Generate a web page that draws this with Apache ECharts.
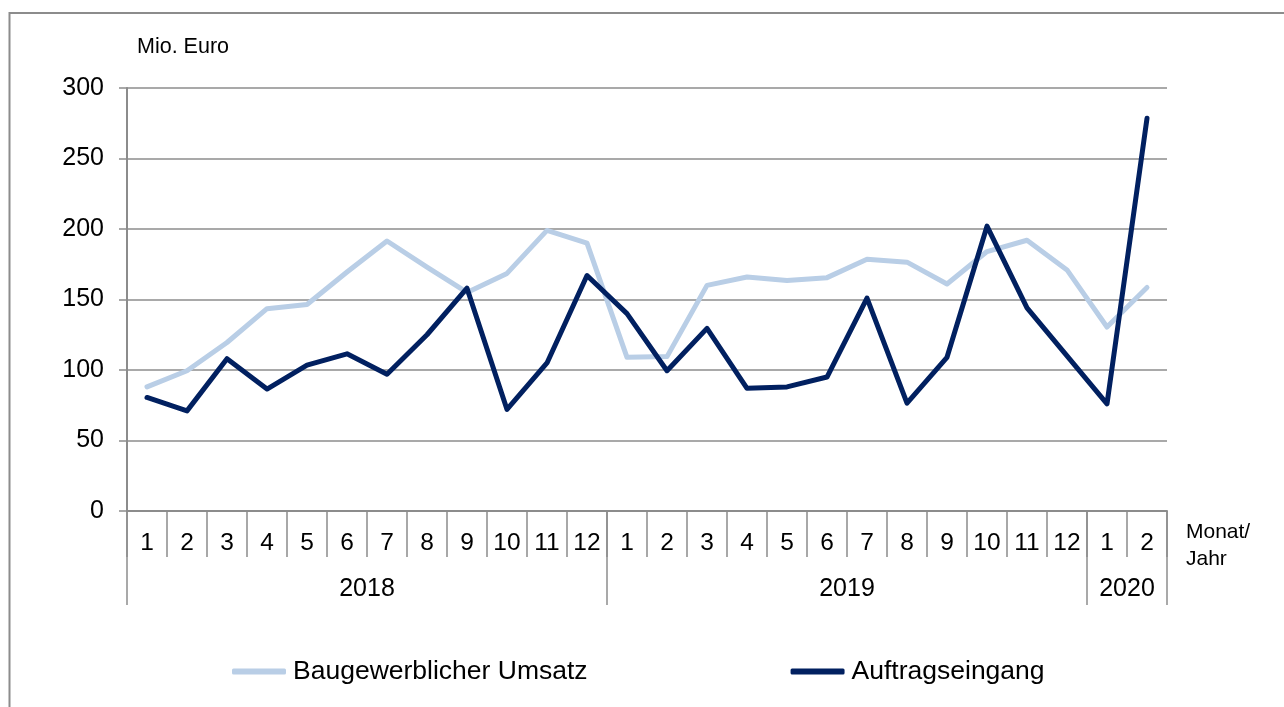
<!DOCTYPE html>
<html>
<head>
<meta charset="utf-8">
<script src="https://cdn.jsdelivr.net/npm/echarts@6/dist/echarts.min.js"></script>
<style>
html,body{margin:0;padding:0;background:#fff;}
#c{width:1284px;height:707px;}
</style>
</head>
<body>
<div id="c"></div>
<script>
const months = ['1','2','3','4','5','6','7','8','9','10','11','12','1','2','3','4','5','6','7','8','9','10','11','12','1','2'];
const years = ['2018','2019','2020'];
const yearMonthCounts = [12, 12, 2];
const umsatz = [88, 99.5, 119.5, 143.5, 146.5, 169.5, 191.5, 173, 155, 168.5, 199, 190, 109, 109.5, 160, 166, 163.5, 165.5, 178.5, 176.5, 161, 184, 192, 171, 130.5, 158.5];
const auftrag = [80.5, 71, 108, 86.5, 103.5, 111.5, 97, 125, 158, 72, 105, 167, 140, 99.5, 129.5, 87, 88, 95, 151, 76.5, 109, 202, 144, 110, 76, 278.5];
const yTicks = [0, 50, 100, 150, 200, 250, 300];

const FONT = 'Liberation Sans, Arial, sans-serif';
const GRAY = '#8c8c8c';
const LIGHT = '#b9cee6';
const DARK = '#012060';

const chart = echarts.init(document.getElementById('c'));
chart.setOption({
  animation: false,
  backgroundColor: '#fff',
  textStyle: { fontFamily: FONT },
  grid: { left: 127, right: 117, top: 88, bottom: 196, containLabel: false },
  legend: {
    left: 227, top: 653, itemWidth: 54, itemHeight: 6, itemGap: 203,
    icon: 'roundRect',
    textStyle: { fontFamily: FONT, fontSize: 26.5, color: '#000', padding: [0, 0, 0, 2] },
    data: ['Baugewerblicher Umsatz', 'Auftragseingang']
  },
  xAxis: {
    type: 'category', data: months, boundaryGap: true,
    axisLine: { show: true, lineStyle: { color: GRAY, width: 2 } },
    axisTick: { show: true, interval: 0, length: 46, lineStyle: { color: GRAY, width: 1.5 } },
    axisLabel: { interval: 0, margin: 20, fontSize: 24.5, color: '#000', fontFamily: FONT },
    splitLine: { show: false }
  },
  yAxis: {
    type: 'value', min: 0, max: 300, interval: 50,
    axisLine: { show: true, lineStyle: { color: GRAY, width: 2 } },
    axisTick: { show: true, length: 8, lineStyle: { color: GRAY, width: 1.5 } },
    axisLabel: { margin: 23, fontSize: 25, color: '#000', fontFamily: FONT,
      formatter: v => yTicks.indexOf(v) >= 0 ? String(v) : '' },
    splitLine: { show: true, lineStyle: { color: GRAY, width: 1.5 } }
  },
  series: [
    { name: 'Baugewerblicher Umsatz', type: 'line', data: umsatz, showSymbol: false, symbol: 'none',
      lineStyle: { color: LIGHT, width: 5, cap: 'round', join: 'round' }, itemStyle: { color: LIGHT }, z: 2 },
    { name: 'Auftragseingang', type: 'line', data: auftrag, showSymbol: false, symbol: 'none',
      lineStyle: { color: DARK, width: 5, cap: 'round', join: 'round' }, itemStyle: { color: DARK }, z: 3 }
  ]
});

// Year separators and labels, positioned via the category axis scale
const c0 = chart.convertToPixel({ xAxisIndex: 0 }, 0);
const c1 = chart.convertToPixel({ xAxisIndex: 0 }, 1);
const bw = c1 - c0;
const yAxisPix = chart.convertToPixel({ yAxisIndex: 0 }, 0);
const graphics = [];
let start = 0;
const bounds = [c0 - bw / 2];
years.forEach((yr, i) => {
  const end = start + yearMonthCounts[i];
  const x0 = chart.convertToPixel({ xAxisIndex: 0 }, start) - bw / 2;
  const x1 = chart.convertToPixel({ xAxisIndex: 0 }, end - 1) + bw / 2;
  bounds.push(x1);
  graphics.push({ type: 'text', x: (x0 + x1) / 2, y: yAxisPix + 78, z: 10,
    style: { text: yr, font: '25px ' + FONT, fill: '#000', align: 'center', verticalAlign: 'middle' } });
  start = end;
});
bounds.forEach(x => {
  graphics.push({ type: 'line', z: 5, shape: { x1: x, y1: yAxisPix, x2: x, y2: yAxisPix + 94 },
    style: { stroke: GRAY, lineWidth: 1.5 } });
});
// outer frame
graphics.push({ type: 'rect', z: 0, shape: { x: 9.5, y: 13, width: 1400, height: 800 },
  style: { fill: null, stroke: '#8c8c8c', lineWidth: 2 } });
graphics.push({ type: 'text', left: 137, top: 36, style: { text: 'Mio. Euro', font: '21.5px ' + FONT, fill: '#000' } });
graphics.push({ type: 'text', left: 1186, top: 519, style: { text: 'Monat/\nJahr', font: '21px ' + FONT, fill: '#000', lineHeight: 27 } });
chart.setOption({ graphic: graphics });
</script>
</body>
</html>
